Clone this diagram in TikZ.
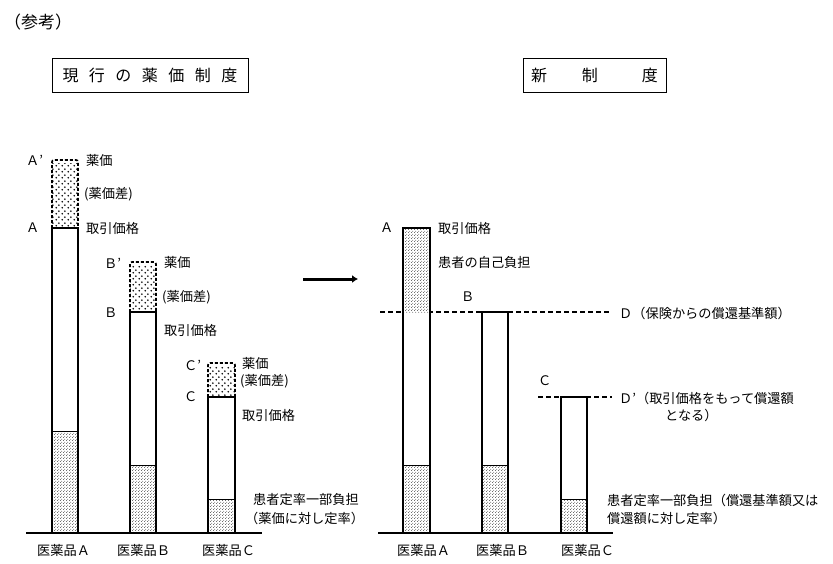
\documentclass[tikz,border=0pt]{standalone}
\usepackage{fontspec}
\setmainfont{Noto Sans CJK JP}
\usetikzlibrary{patterns.meta,arrows.meta}
\tikzdeclarepattern{name=bigdots, type=uncolored, bottom left={(0pt,0pt)}, top right={(5.5pt,5.5pt)}, tile size={(5.5pt,5.5pt)},
  code={\fill (1.375pt,1.375pt) circle (0.95pt); \fill (4.125pt,4.125pt) circle (0.95pt);}}
\tikzdeclarepattern{name=finedots, type=uncolored, bottom left={(0pt,0pt)}, top right={(3pt,3pt)}, tile size={(3pt,3pt)},
  code={\fill (0.75pt,0.75pt) circle (0.5pt); \fill (2.25pt,2.25pt) circle (0.5pt);}}
\begin{document}
\begin{tikzpicture}[x=1pt,y=-1pt,
  lbl/.style={anchor=west,inner sep=0pt,font=\fontsize{13.2}{15}\selectfont},
  titlebox/.style={draw,line width=0.9pt,inner sep=0pt,font=\fontsize{16}{18}\selectfont},
  barline/.style={line width=2pt},
  baseline/.style={line width=2pt},
  topdash/.style={line width=1.7pt,dash pattern=on 3pt off 2pt,rounded corners=2pt},
  refline/.style={line width=1.8pt,dash pattern=on 4.5pt off 3.5pt},
  lowfill/.style={pattern=finedots},
  topfill/.style={pattern=bigdots}]
\useasboundingbox (0,0) rectangle (833,563);

% header
\node[lbl,font=\fontsize{17}{19}\selectfont] (sanko) at (4,22) {（参考）};
\node[titlebox,minimum width=196pt,minimum height=34pt] (tleft) at (150,75) {現\hspace{10.5pt}行\hspace{10.5pt}の\hspace{10.5pt}薬\hspace{10.5pt}価\hspace{10.5pt}制\hspace{10.5pt}度};
\node[titlebox,minimum width=143pt,minimum height=34pt] (tright) at (594.5,75) {新\hspace{35pt}制\hspace{44pt}度};

% ---------- left: current system ----------
% bar A
\path[topfill] (52,163) rectangle (78,228);
\draw[topdash] (52,228) -- (52,160) -- (78,160) -- (78,228);
\path[lowfill] (52,431) rectangle (78,533);
\draw[line width=0.7pt] (52,431) -- (78,431);
\draw[barline] (52,533) -- (52,228) -- (78,228) -- (78,533);
% bar B
\path[topfill] (130,265) rectangle (156,312);
\draw[topdash] (130,312) -- (130,262) -- (156,262) -- (156,312);
\path[lowfill] (130,465) rectangle (156,533);
\draw[line width=0.7pt] (130,465) -- (156,465);
\draw[barline] (130,533) -- (130,312) -- (156,312) -- (156,533);
% bar C
\path[topfill] (208,366) rectangle (235,397);
\draw[topdash] (208,397) -- (208,363) -- (235,363) -- (235,397);
\path[lowfill] (208,499) rectangle (235,533);
\draw[line width=0.7pt] (208,499) -- (235,499);
\draw[barline] (208,533) -- (208,397) -- (235,397) -- (235,533);
\draw[baseline] (26,533) -- (262,533);

\node[lbl] (lAp) at (26,160) {Ａ’};
\node[lbl] (lA) at (26,228) {Ａ};
\node[lbl] (lYA) at (86,160) {薬価};
\node[lbl] (lSA) at (84,194) {(薬価差)};
\node[lbl] (lTA) at (86,228) {取引価格};
\node[lbl] (lBp) at (104,263) {Ｂ’};
\node[lbl] (lB) at (104,313) {Ｂ};
\node[lbl] (lYB) at (164,262) {薬価};
\node[lbl] (lSB) at (162,297) {(薬価差)};
\node[lbl] (lTB) at (164,330) {取引価格};
\node[lbl] (lCp) at (184,365) {Ｃ’};
\node[lbl] (lC) at (184,397) {Ｃ};
\node[lbl] (lYC) at (242,363) {薬価};
\node[lbl] (lSC) at (240,381) {(薬価差)};
\node[lbl] (lTC) at (242,415) {取引価格};
\node[lbl] (lK1) at (253,500) {患者定率一部負担};
\node[lbl] (lK2) at (245,518) {（薬価に対し定率）};
\node[lbl] (lIA) at (37,550) {医薬品Ａ};
\node[lbl] (lIB) at (117,550) {医薬品Ｂ};
\node[lbl] (lIC) at (202,550) {医薬品Ｃ};

% arrow
\coordinate (arrS) at (303,279);
\coordinate (arrE) at (358,279);
\draw[line width=3pt,-{Latex[length=6pt,width=8pt]}] (arrS) -- (arrE);

% ---------- right: new system ----------
\draw[refline] (380,312) -- (610,312);
\draw[refline] (538,397) -- (612,397);
% bar A
\path[fill=white] (403,228) rectangle (430,533);
\path[pattern=finedots] (403,228) rectangle (430,312);
\path[lowfill] (403,465) rectangle (430,533);
\draw[line width=0.7pt] (403,465) -- (430,465);
\draw[barline] (403,533) -- (403,228) -- (430,228) -- (430,533);
% bar B
\path[fill=white] (482,312) rectangle (508,533);
\path[lowfill] (482,465) rectangle (508,533);
\draw[line width=0.7pt] (482,465) -- (508,465);
\draw[barline] (482,533) -- (482,312) -- (508,312) -- (508,533);
% bar C
\path[fill=white] (561,397) rectangle (587,533);
\path[lowfill] (561,499) rectangle (587,533);
\draw[line width=0.7pt] (561,499) -- (587,499);
\draw[barline] (561,533) -- (561,397) -- (587,397) -- (587,533);
\draw[baseline] (378,533) -- (613,533);

\node[lbl] (rA) at (380,228) {Ａ};
\node[lbl] (rTA) at (438,228) {取引価格};
\node[lbl] (rJA) at (438,262) {患者の自己負担};
\node[lbl] (rB) at (461,297) {Ｂ};
\node[lbl] (rD) at (619,313) {Ｄ（保険からの償還基準額）};
\node[lbl] (rC) at (538,381) {Ｃ};
\node[lbl] (rDp1) at (619,398) {Ｄ’（取引価格をもって償還額};
\node[lbl] (rDp2) at (665,415) {となる）};
\node[lbl] (rK1) at (607,500) {患者定率一部負担（償還基準額又は};
\node[lbl] (rK2) at (607,518) {償還額に対し定率）};
\node[lbl] (rIA) at (397,550) {医薬品Ａ};
\node[lbl] (rIB) at (476,550) {医薬品Ｂ};
\node[lbl] (rIC) at (561,550) {医薬品Ｃ};
\end{tikzpicture}
\end{document}
